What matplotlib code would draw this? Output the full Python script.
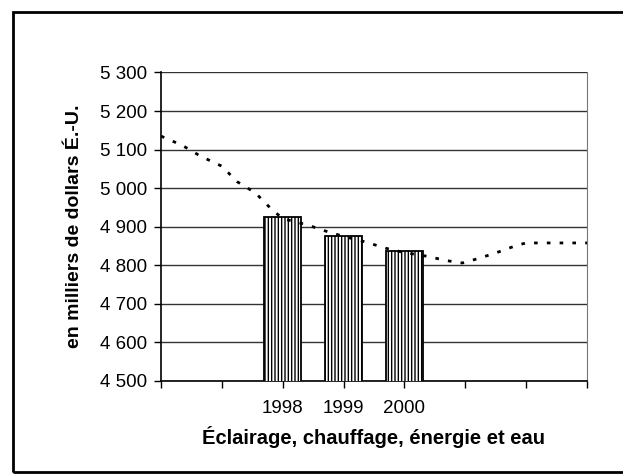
import matplotlib

matplotlib.use("agg")

import matplotlib.pyplot as plt
from matplotlib.patches import Rectangle

plt.rcParams["font.family"] = ["Liberation Sans", "DejaVu Sans"]
plt.rcParams["hatch.linewidth"] = 1.0

# bar data
years = [1998, 1999, 2000]
spending = [4924, 4877, 4836]

# dotted trend curve
trend_x = [1996.0, 1996.35, 1996.65, 1997.0, 1997.25, 1997.55, 1997.8,
           1998.0, 1998.4, 1998.7, 1999.0, 1999.35, 1999.7, 2000.0,
           2000.35, 2000.7, 2000.95, 2001.2, 2001.5, 2001.85, 2002.0, 2003.0]
trend_y = [5135, 5111, 5083, 5057, 5017, 4988, 4948,
           4921, 4905, 4889, 4875, 4861, 4844, 4833,
           4824, 4812, 4806, 4817, 4832, 4852, 4858, 4858]

y_ticks = [4500, 4600, 4700, 4800, 4900, 5000, 5100, 5200, 5300]
y_labels = ["4 500", "4 600", "4 700", "4 800", "4 900",
            "5 000", "5 100", "5 200", "5 300"]

fig = plt.figure(figsize=(6.23, 4.75), dpi=100)
ax = fig.add_axes([0.2584, 0.1979, 0.6838, 0.6495])

# outer chart border (right side runs off the picture)
fig.patches.append(Rectangle((0.0209, 0.0063), 1.2, 0.9674,
                             transform=fig.transFigure, fill=False,
                             edgecolor="black", linewidth=2))

ax.bar(years, spending, width=0.6, bottom=0, color="white",
       edgecolor="black", linewidth=1.3, hatch="|||||", zorder=3)
ax.plot(trend_x, trend_y, color="black", linewidth=2,
        linestyle=(0, (1.3, 3.3)), zorder=4)

ax.set_xlim(1996, 2003)
ax.set_ylim(4500, 5300)
ax.set_xticks(range(1996, 2004))
ax.set_xticklabels(["", "", "1998", "1999", "2000", "", "", ""])
ax.set_yticks(y_ticks)
ax.set_yticklabels(y_labels)
ax.tick_params(axis="both", labelsize=13.5, direction="out", length=5,
               width=1, color="black")
ax.tick_params(axis="x", pad=9)
ax.tick_params(axis="y", pad=5)

ax.yaxis.grid(True, color="#333333", linewidth=1)
ax.set_axisbelow(True)
for side in ["left", "bottom"]:
    ax.spines[side].set_linewidth(1.2)
ax.spines["top"].set_visible(False)
ax.spines["right"].set_color("#777777")

ax.set_ylabel("en milliers de dollars É.-U.", fontsize=14,
              fontweight="bold", labelpad=12)
ax.set_xlabel("Éclairage, chauffage, énergie et eau", fontsize=14.5,
              fontweight="bold", labelpad=6)

fig.savefig("out.png", dpi=100)
